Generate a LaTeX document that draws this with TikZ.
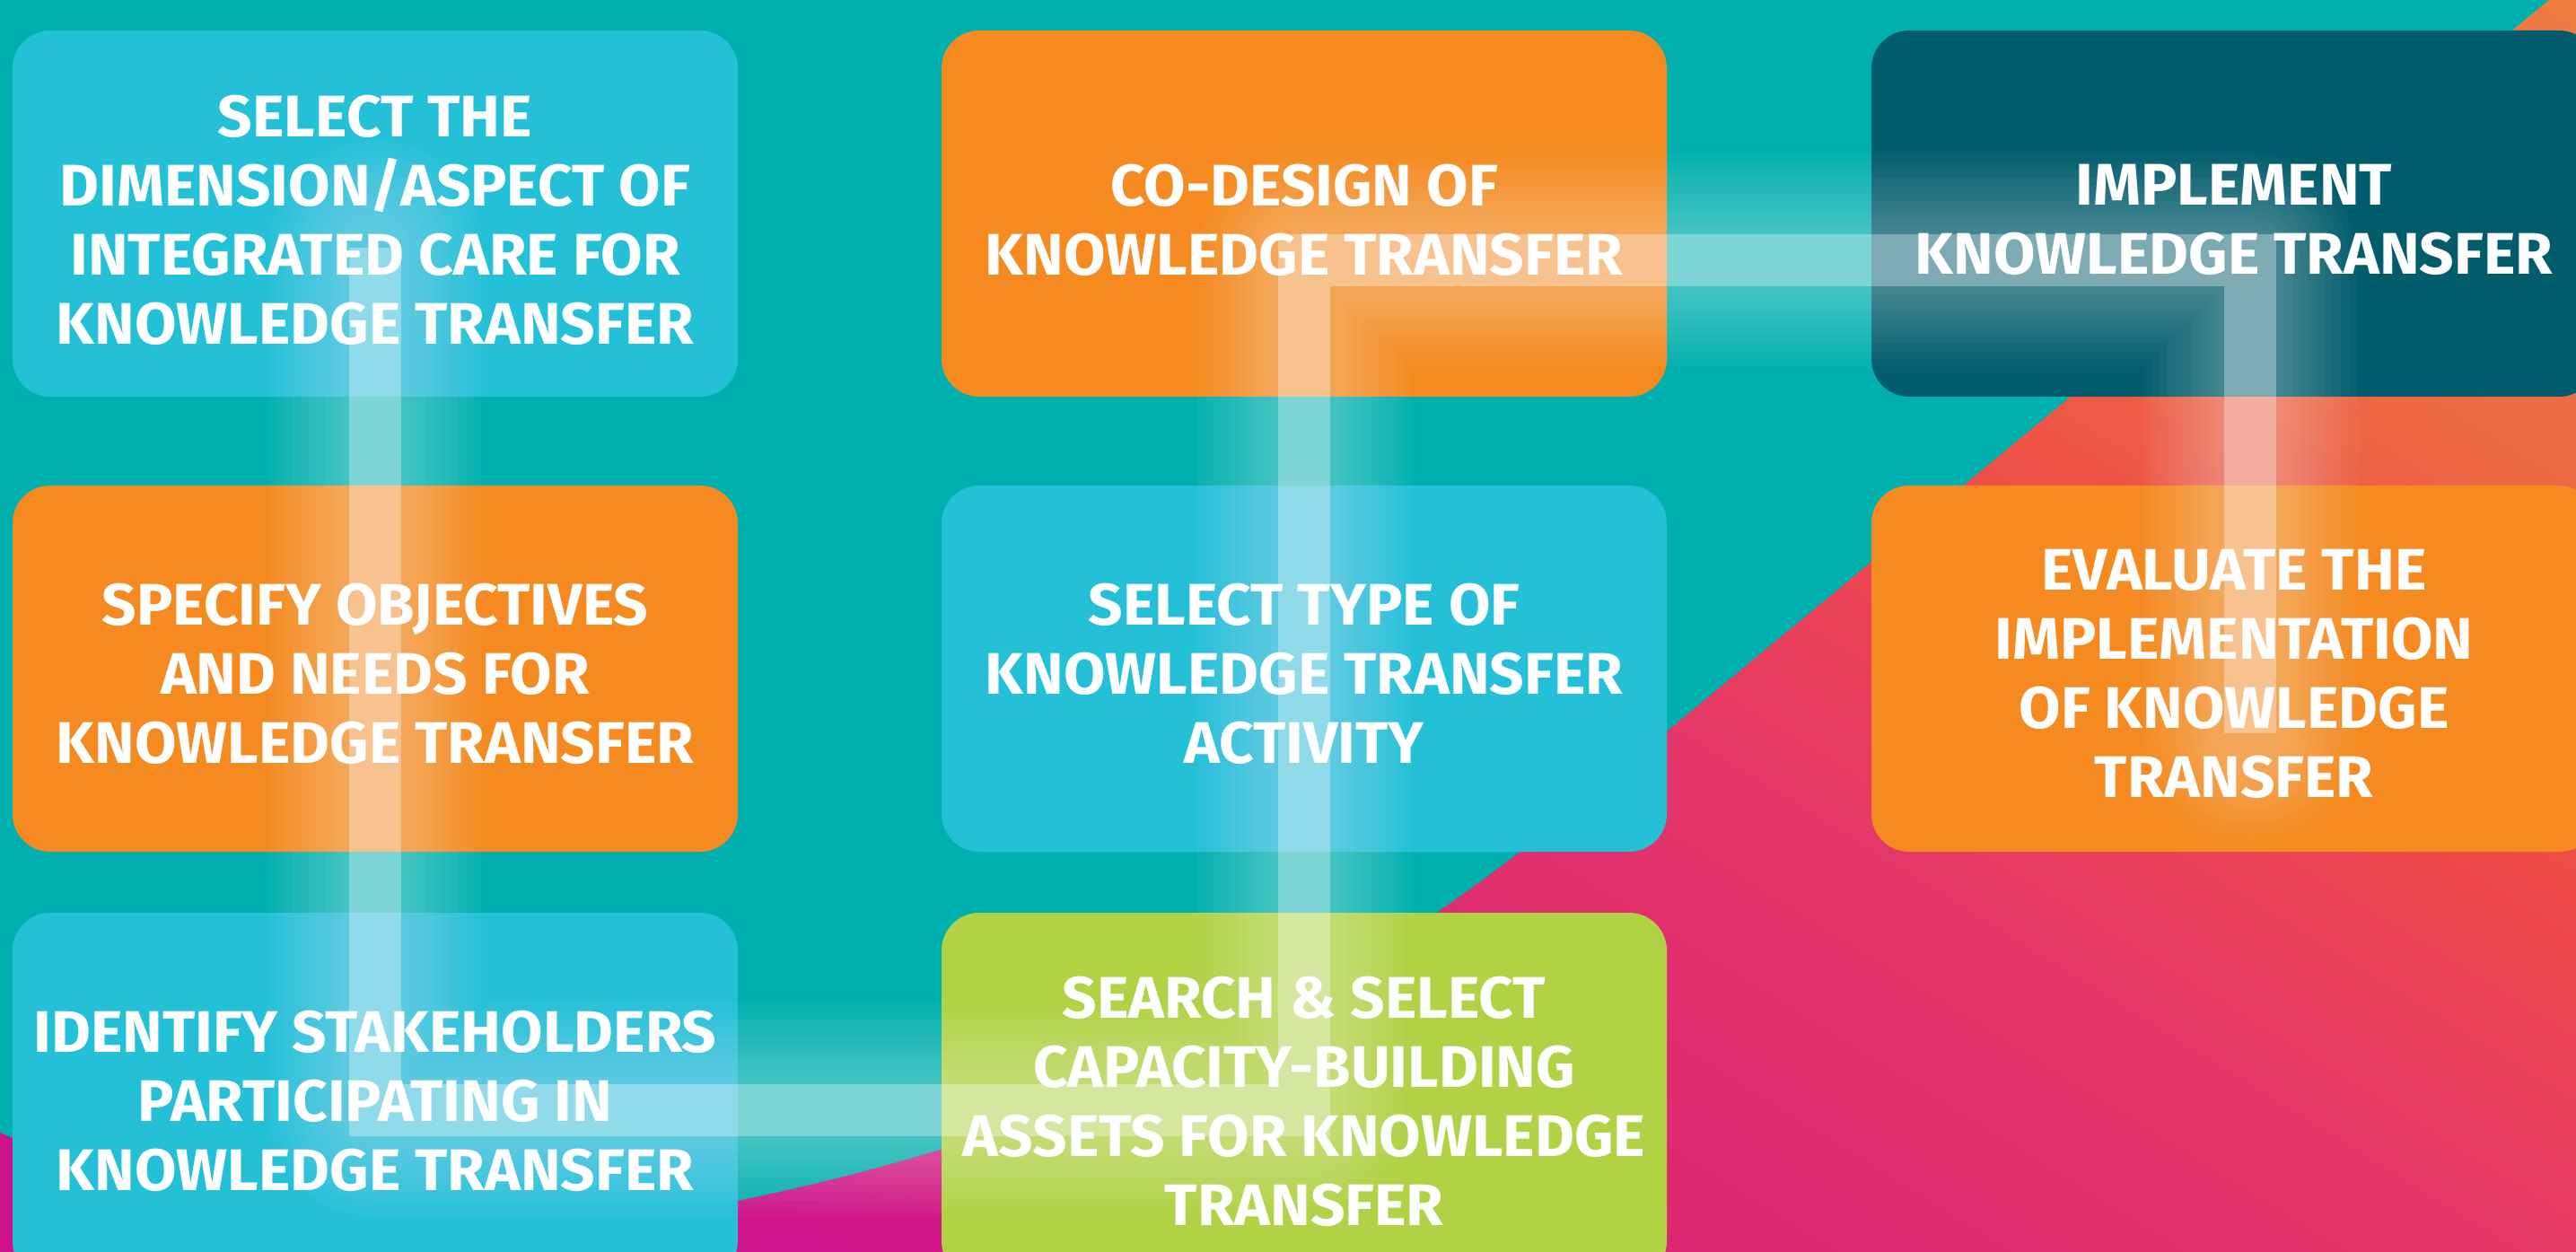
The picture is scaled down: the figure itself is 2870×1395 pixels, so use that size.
\documentclass[tikz,border=0pt]{standalone}
\usepackage{fontspec}
\setmainfont{Fira Sans}[FakeStretch=1.03]
\usetikzlibrary{calc}
\definecolor{bgteal}{HTML}{00B0AF}
\definecolor{cblue}{HTML}{24C0D8}
\definecolor{corange}{HTML}{F48A20}
\definecolor{cdark}{HTML}{015C6C}
\definecolor{cgreen}{HTML}{B0D244}
\definecolor{pkA}{HTML}{CD128C}
\definecolor{pkB}{HTML}{CE148B}
\definecolor{pkC}{HTML}{DC2472}
\definecolor{pkD}{HTML}{E4366A}
\definecolor{pkE}{HTML}{EF4B48}
\definecolor{pkF}{HTML}{EE6A44}
\definecolor{pkG}{HTML}{EE7C40}
\begin{document}
\begin{tikzpicture}[x=0.5pt,y=-0.5pt,
  box/.style={rounded corners=21pt, minimum width=404pt, minimum height=204pt, inner sep=0pt},
  boxtext/.style={inner sep=0pt, text=white, align=center,
    font=\bfseries\fontsize{32.7}{38.5}\selectfont},
  glow/.style={white, opacity=0.03, line cap=round, line join=round},
  band/.style={white, opacity=0.32, line width=29pt, line cap=butt, line join=miter}]
\useasboundingbox (0,0) rectangle (2870,1395);
\clip (0,0) rectangle (2870,1395);
\fill[bgteal] (0,0) rectangle (2870,1395);
% pink gradient region
\begin{scope}
\clip (2840,0) -- (1740,912) .. controls (1450,1150) and (1150,1270) .. (822,1338)
  .. controls (500,1405) and (150,1330) .. (0,1262) -- (0,1395) -- (2870,1395) -- (2870,0) -- cycle;
\foreach \sa/\sb/\ca/\cb in {-1200/-700/pkA/pkB, -700/-265/pkB/pkC, -265/270/pkC/pkD,
   270/662/pkD/pkE, 662/1030/pkE/pkF, 1030/1520/pkF/pkG}{
  \pgfmathtruncatemacro\n{ceil(((\sb)-(\sa))/20)}
  \foreach \i in {1,...,\n}{
    \pgfmathsetmacro\so{(\sa)+(\i-1)*((\sb)-(\sa))/\n}
    \pgfmathsetmacro\st{(\sa)+\i*((\sb)-(\sa))/\n+2}
    \pgfmathtruncatemacro\p{100*(\i-0.5)/\n}
    \fill[\cb!\p!\ca] ({\so*0.526-85},{-\so*0.851-53}) -- ({\so*0.526+2808},{-\so*0.851+1736})
      -- ({\st*0.526+2808},{-\st*0.851+1736}) -- ({\st*0.526-85},{-\st*0.851-53}) -- cycle;
  }
}
\end{scope}
% boxes
\node[box, fill=cblue]   (b1) at (418,238)   {};
\node[box, fill=corange] (b2) at (418,745)   {};
\node[box, fill=cblue]   (b3) at (418,1221)  {};
\node[box, fill=cgreen]  (b4) at (1453,1221) {};
\node[box, fill=cblue]   (b5) at (1453,745)  {};
\node[box, fill=corange] (b6) at (1453,238)  {};
\node[box, fill=cdark]   (b7) at (2489,238)  {};
\node[box, fill=corange] (b8) at (2489,745)  {};
% texts
\node[boxtext] (t1) at ($(b1.center)+(0,7)$) {SELECT THE\\DIMENSION/ASPECT OF\\INTEGRATED CARE FOR\\KNOWLEDGE TRANSFER};
\node[boxtext] (t2) at ($(b2.center)+(0,6)$) {SPECIFY OBJECTIVES\\AND NEEDS FOR\\KNOWLEDGE TRANSFER};
\node[boxtext] (t3) at ($(b3.center)+(0,6)$) {IDENTIFY STAKEHOLDERS\\PARTICIPATING IN\\KNOWLEDGE TRANSFER};
\node[boxtext] (t4) at ($(b4.center)+(0,6)$) {SEARCH \& SELECT\\CAPACITY-BUILDING\\ASSETS FOR KNOWLEDGE\\TRANSFER};
\node[boxtext] (t5) at ($(b5.center)+(0,6)$) {SELECT TYPE OF\\KNOWLEDGE TRANSFER\\ACTIVITY};
\node[boxtext] (t6) at ($(b6.center)+(0,7)$) {CO-DESIGN OF\\KNOWLEDGE TRANSFER};
\node[boxtext] (t7) at ($(b7.center)+(0,7)$) {IMPLEMENT\\KNOWLEDGE TRANSFER};
\node[boxtext] (t8) at ($(b8.center)+(0,6)$) {EVALUATE THE\\IMPLEMENTATION\\OF KNOWLEDGE\\TRANSFER};
% connector
\coordinate (s)  at (418,276);
\coordinate (k1) at (1453,1237);
\coordinate (k2) at (2507,290);
\coordinate (e)  at (2507,817);
\foreach \k in {1,...,10}{
  \pgfmathsetmacro\lw{29+9*\k}
  \draw[glow, line width=\lw pt] (s) |- (k1) |- (k2) -- (e);
}
\draw[band] (s) |- (k1) |- (k2) -- (e);
\end{tikzpicture}
\end{document}
